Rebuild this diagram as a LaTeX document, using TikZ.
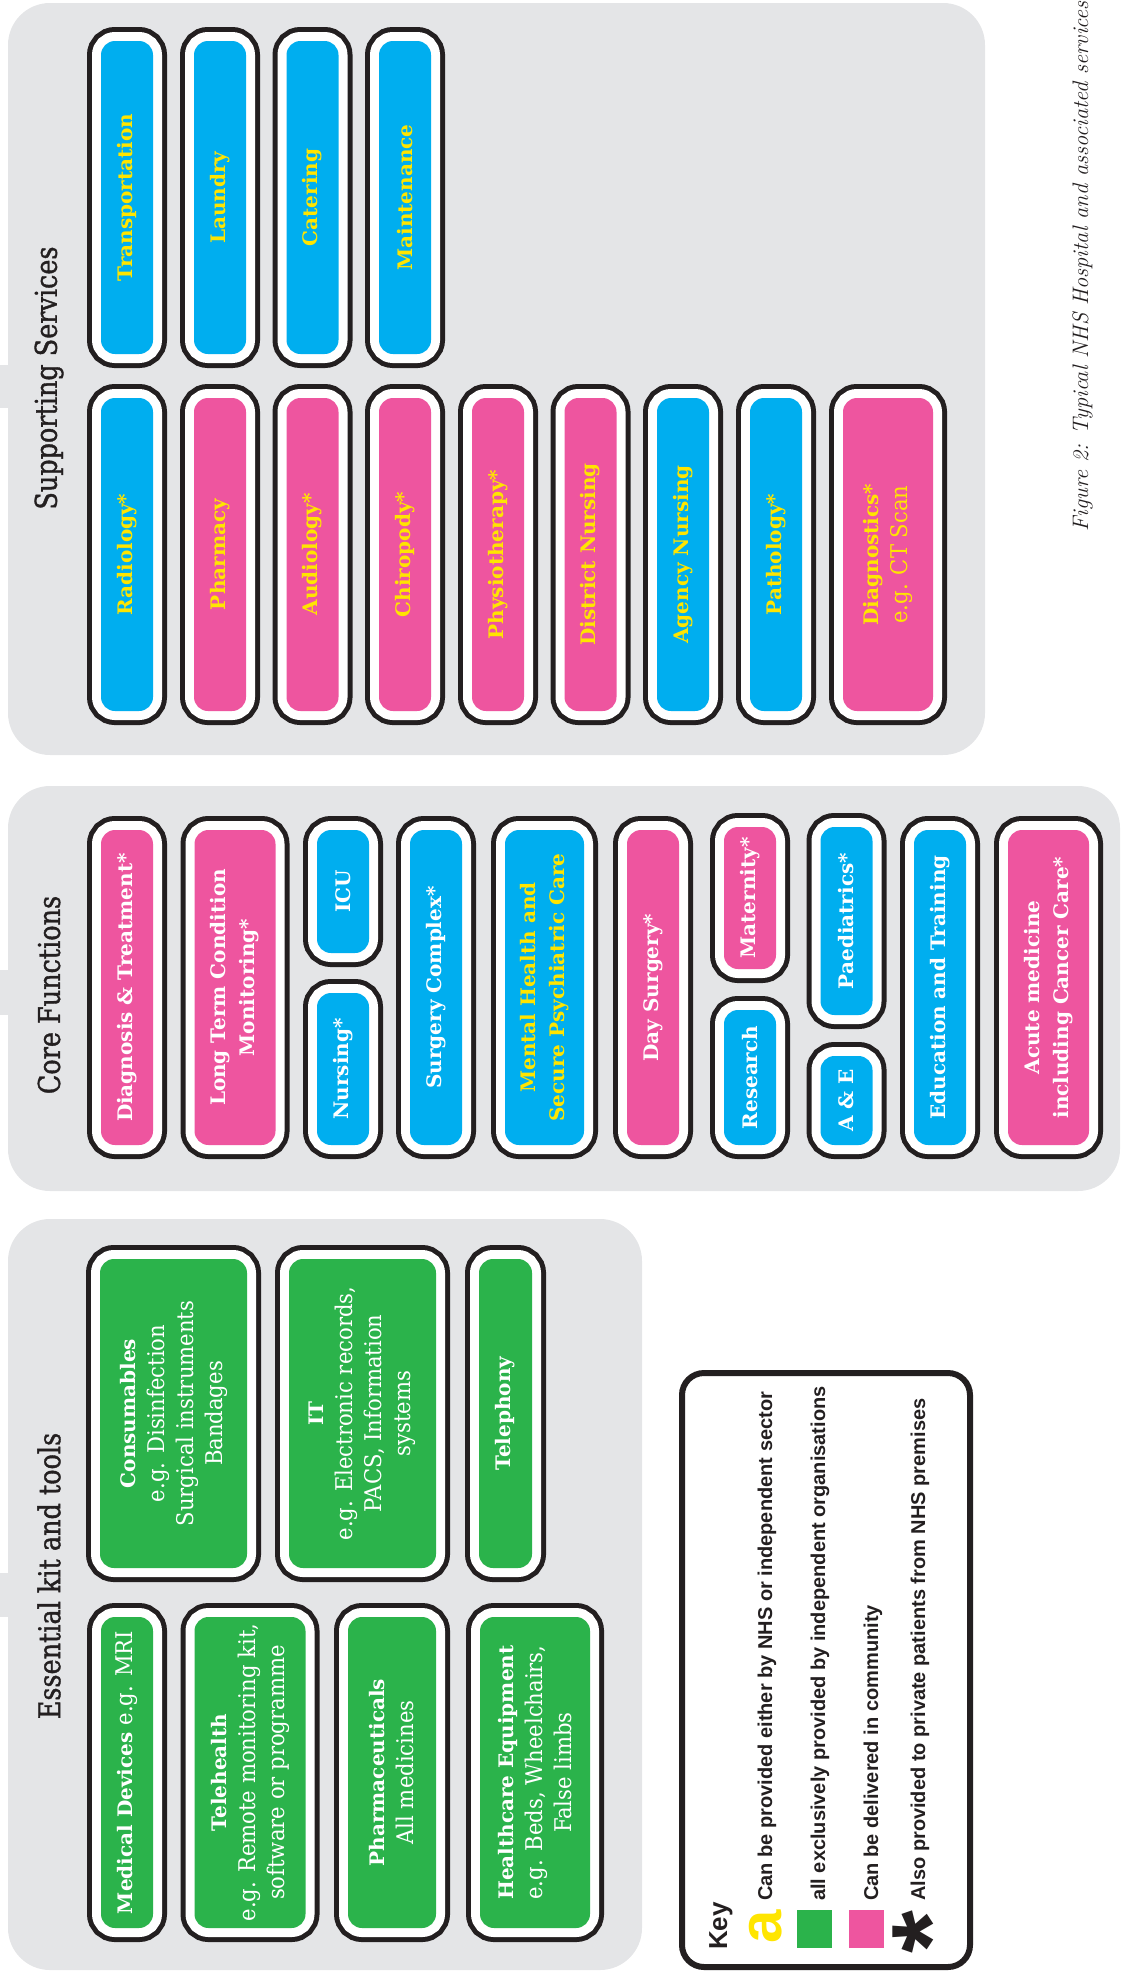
\documentclass[tikz,border=0pt]{standalone}
\usepackage{fontspec}
\newfontfamily\slabfont{DejaVu Serif}
\newfontfamily\slablight[FakeStretch=0.92]{DejaVu Serif}
\newfontfamily\headfont[FakeStretch=0.85,FakeBold=1.2]{DejaVu Serif}
\newfontfamily\keyfont{Liberation Sans}
\newcommand{\lighttext}{\slablight\mdseries\fontsize{23}{29}\selectfont}
\definecolor{panelgray}{HTML}{E4E5E7}
\definecolor{outline}{HTML}{231F20}
\definecolor{nhsblue}{HTML}{00AEEF}
\definecolor{nhspink}{HTML}{EE559F}
\definecolor{nhsgreen}{HTML}{2BB34B}
\definecolor{nhsyellow}{HTML}{FFE500}
\tikzset{
    panel/.style={
        fill=panelgray,
        rounded corners=42pt,
        inner sep=0pt
    },
    heading/.style={
        rotate=90,
        text=outline,
        inner sep=0pt,
        font=\headfont\fontsize{30}{34}\selectfont
    },
    cell/.style={
        fill=#1,
        rounded corners=14pt,
        preaction={draw=outline, line width=28pt},
        preaction={draw=white, line width=18pt},
        rotate=90,
        inner sep=0pt,
        align=center,
        font=\slabfont\bfseries\fontsize{20}{29}\selectfont
    },
    supportcell/.style={
        cell=#1,
        text=nhsyellow,
        minimum width=313pt,
        minimum height=52pt
    },
    corecell/.style={
        cell=#1,
        text=white,
        minimum width=315pt,
        minimum height=52pt
    },
    kitcell/.style={
        cell=nhsgreen,
        text=white
    },
    keybox/.style={
        draw=outline,
        fill=white,
        line width=6pt,
        rounded corners=22pt,
        inner sep=0pt
    },
    keytext/.style={
        rotate=90,
        anchor=base west,
        inner sep=0pt,
        text=outline,
        font=\keyfont\bfseries\fontsize{20}{22}\selectfont
    },
    keyswatch/.style={
        minimum width=35pt,
        minimum height=38pt,
        inner sep=0pt
    },
    figcaption/.style={
        rotate=90,
        anchor=base west,
        inner sep=0pt,
        text=outline,
        font=\itshape\fontsize{22.4}{26}\selectfont
    }
}

\begin{document}
\begin{tikzpicture}[x=1pt,y=-1pt]
    \useasboundingbox (0,0) rectangle (1136,1973);

    % Supporting Services
    \node[panel,minimum width=977pt,minimum height=752pt] (supportpanel) at (496.5,379) {};
    \fill[panelgray] (0,365) rectangle (10,408);
    \node[heading] (supporthead) at (49,378) {Supporting Services};

    \node[supportcell=nhsblue] (transport) at (127,197.5) {Transportation};
    \node[supportcell=nhsblue] (laundry) at (220,197.5) {Laundry};
    \node[supportcell=nhsblue] (catering) at (312.5,197.5) {Catering};
    \node[supportcell=nhsblue] (maintenance) at (405,197.5) {Maintenance};

    \node[supportcell=nhsblue] (radiology) at (127,554.5) {Radiology*};
    \node[supportcell=nhspink] (pharmacy) at (220,554.5) {Pharmacy};
    \node[supportcell=nhspink] (audiology) at (312.5,554.5) {Audiology*};
    \node[supportcell=nhspink] (chiropody) at (405,554.5) {Chiropody*};
    \node[supportcell=nhspink] (physio) at (498,554.5) {Physiotherapy*};
    \node[supportcell=nhspink] (district) at (590.5,554.5) {District Nursing};
    \node[supportcell=nhsblue] (agency) at (683,554.5) {Agency Nursing};
    \node[supportcell=nhsblue] (pathology) at (776,554.5) {Pathology*};
    \node[supportcell=nhspink,minimum height=90pt] (diagnostics) at (888,554.5)
        {Diagnostics*\\{\lighttext e.g. CT Scan}};

    % Core Functions
    \node[panel,minimum width=1112pt,minimum height=405pt] (corepanel) at (564,988.5) {};
    \fill[panelgray] (0,970) rectangle (10,1015);
    \node[heading] (corehead) at (49,995) {Core Functions};

    \node[corecell=nhspink] (diagnosis) at (127,987.5) {Diagnosis \& Treatment*};
    \node[corecell=nhspink,minimum height=81pt] (longterm) at (235,987.5)
        {Long Term Condition\\Monitoring*};
    \node[corecell=nhsblue,minimum width=123pt] (icu) at (343,891.5) {ICU};
    \node[corecell=nhsblue,minimum width=152pt] (nursing) at (343,1069) {Nursing*};
    \node[corecell=nhsblue] (surgery) at (436,987.5) {Surgery Complex*};
    \node[corecell=nhsblue,minimum height=79pt,text=nhsyellow] (mental) at (544.5,987.5)
        {Mental Health and\\Secure Psychiatric Care};
    \node[corecell=nhspink] (daysurgery) at (653,987.5) {Day Surgery*};
    \node[corecell=nhspink,minimum width=142pt] (maternity) at (750,898) {Maternity*};
    \node[corecell=nhsblue,minimum width=135pt] (research) at (750,1077.5) {Research};
    \node[corecell=nhsblue,minimum width=188pt] (paediatrics) at (846.5,921) {Paediatrics*};
    \node[corecell=nhsblue,minimum width=89pt] (ae) at (846.5,1100.5) {A \& E};
    \node[corecell=nhsblue] (education) at (940,987.5) {Education and Training};
    \node[corecell=nhspink,minimum height=81pt] (acute) at (1048.5,987.5)
        {Acute medicine\\including Cancer Care*};

    % Essential kit and tools
    \node[panel,minimum width=634pt,minimum height=751pt] (kitpanel) at (325,1594.5) {};
    \fill[panelgray] (0,1573) rectangle (10,1617);
    \node[heading] (kithead) at (49,1576) {Essential kit and tools};

    \node[kitcell,minimum width=309pt,minimum height=147pt] (consumables) at (173.5,1413.5)
        {Consumables\\{\lighttext e.g. Disinfection}\\{\lighttext Surgical instruments}\\{\lighttext Bandages}};
    \node[kitcell,minimum width=309pt,minimum height=147pt] (it) at (362.5,1413.5)
        {IT\\{\lighttext e.g. Electronic records,}\\{\lighttext PACS, Information}\\{\lighttext systems}};
    \node[kitcell,minimum width=309pt,minimum height=53pt] (telephony) at (505.5,1413.5) {Telephony};
    \node[kitcell,minimum width=311pt,minimum height=52pt] (devices) at (127,1772.5)
        {Medical Devices {\lighttext e.g. MRI}};
    \node[kitcell,minimum width=311pt,minimum height=111pt] (telehealth) at (250,1772.5)
        {Telehealth\\{\lighttext e.g. Remote monitoring kit,}\\{\lighttext software or programme}};
    \node[kitcell,minimum width=311pt,minimum height=88pt] (pharmaceuticals) at (392,1772.5)
        {Pharmaceuticals\\{\lighttext All medicines}};
    \node[kitcell,minimum width=311pt,minimum height=110pt] (equipment) at (535,1772.5)
        {Healthcare Equipment\\{\lighttext e.g. Beds, Wheelchairs,}\\{\lighttext False limbs}};

    % Key
    \node[keybox,minimum width=288pt,minimum height=594pt] (keypanel) at (826,1670) {};
    \node[keytext,font=\keyfont\bfseries\fontsize{26}{28}\selectfont] (keytitle) at (727,1950) {Key};
    \node[keytext,text=nhsyellow,font=\keyfont\bfseries\fontsize{60}{60}\selectfont] (keyeither) at (781,1944) {a};
    \node[keytext] (keyeithertext) at (772,1901) {Can be provided either by NHS or independent sector};
    \node[keyswatch,fill=nhsgreen] (keygreen) at (814.5,1929) {};
    \node[keytext] (keygreentext) at (825,1901) {all exclusively provided by independent organisations};
    \node[keyswatch,fill=nhspink] (keypink) at (866,1929) {};
    \node[keytext] (keypinktext) at (878,1901) {Can be delivered in community};
    \node[keytext,font=\keyfont\bfseries\fontsize{110}{110}\selectfont] (keystar) at (968,1954) {*};
    \node[keytext] (keystartext) at (925,1901) {Also provided to private patients from NHS premises};

    \node[figcaption] (caption) at (1088,532) {Figure 2: Typical NHS Hospital and associated services};
\end{tikzpicture}
\end{document}
